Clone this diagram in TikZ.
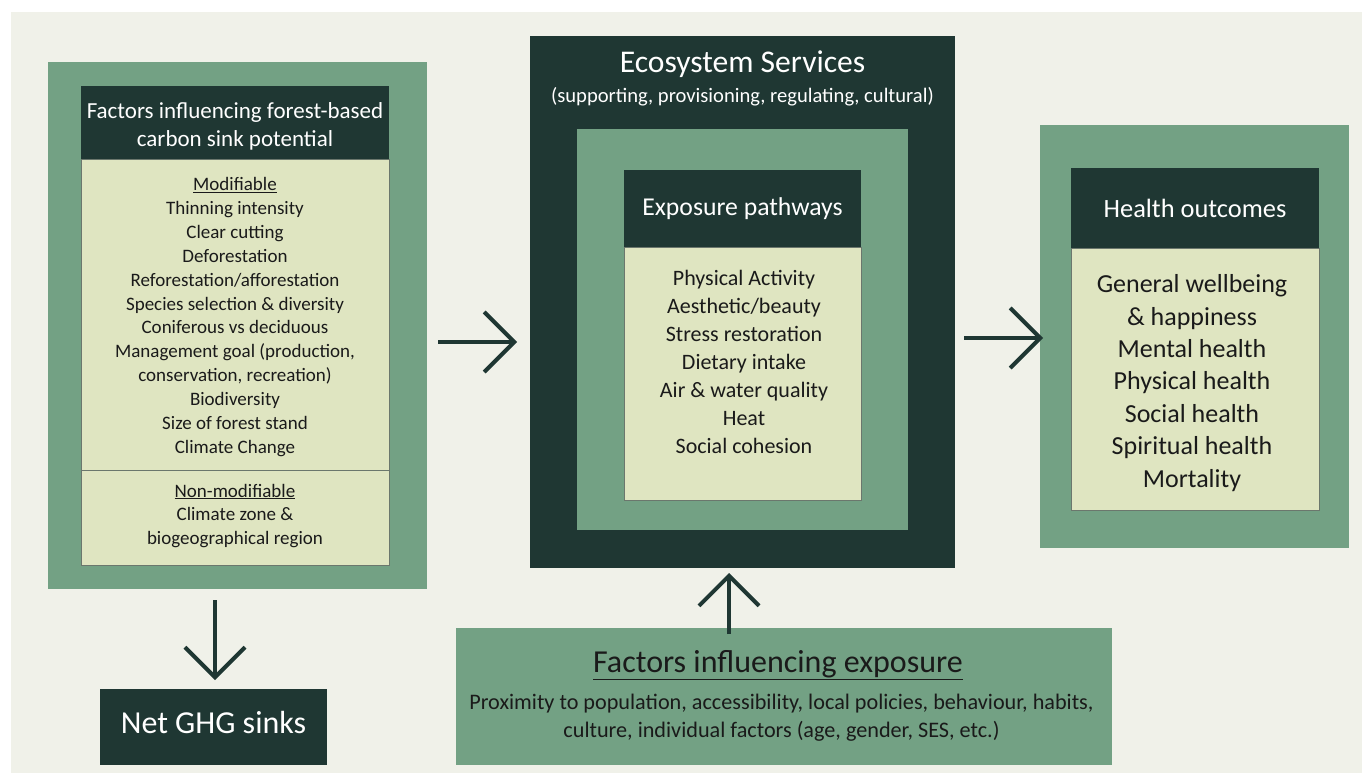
\documentclass[tikz,border=0pt]{standalone}
\usepackage{fontspec}
\setmainfont{Carlito}
\usepackage{tikz}
\usetikzlibrary{arrows.meta, positioning}
\definecolor{pagebg}{HTML}{F0F1E9}
\definecolor{darkgreen}{HTML}{1F3733}
\definecolor{midgreen}{HTML}{73A184}
\definecolor{palegreen}{HTML}{DFE5C1}
\definecolor{edgegray}{HTML}{6B776D}
\definecolor{inktext}{HTML}{1A1A1A}
\newcommand{\setfs}[2]{\fontsize{#1}{#2}\selectfont}
\tikzset{
    panel/.style={
        rectangle,
        fill=midgreen,
        outer sep=0pt,
        inner sep=0pt
    },
    darkpanel/.style={
        rectangle,
        fill=darkgreen,
        outer sep=0pt,
        inner sep=0pt
    },
    headbox/.style={
        rectangle,
        fill=darkgreen,
        text=white,
        align=center,
        outer sep=0pt,
        inner sep=0pt
    },
    bodybox/.style={
        rectangle,
        fill=palegreen,
        draw=edgegray,
        line width=0.8pt,
        outer sep=0pt,
        inner sep=0pt
    },
    listtext/.style={
        align=center,
        text=inktext,
        inner sep=0pt
    },
    flow/.style={
        draw=darkgreen,
        line width=4pt,
        -{Straight Barb[length=30pt, width=60pt]}
    }
}

\begin{document}
\begin{tikzpicture}[x=1pt, y=-1pt]

% Page background
\fill[white] (0,0) rectangle (1362,773);
\fill[pagebg] (11,12) rectangle (1362,773);

% Carbon sink panel
\node[panel, minimum width=379pt, minimum height=527pt] (carbonpanel) at (237.5,325.5) {};
\node[headbox, minimum width=308pt, minimum height=73pt] (carbonhead) at (235,122.5) {};
\node[listtext, text=white, font=\setfs{23}{28}] (carbontitle) at (235,126.5) {Factors influencing forest-based\\carbon sink potential};
\node[bodybox, minimum width=308pt, minimum height=311pt, below=0pt of carbonhead] (carbonmod) {};
\node[bodybox, minimum width=308pt, minimum height=95pt, below=0pt of carbonmod] (carbonfixed) {};
\node[listtext, font=\setfs{19}{23.9}] (modlist) at (235,317) {\underline{Modifiable}\\Thinning intensity\\Clear cutting\\Deforestation\\Reforestation/afforestation\\Species selection \& diversity\\Coniferous vs deciduous\\Management goal (production,\\conservation, recreation)\\Biodiversity\\Size of forest stand\\Climate Change};
\node[listtext, font=\setfs{19}{23.9}] (fixedlist) at (235,516) {\underline{Non-modifiable}\\Climate zone \&\\biogeographical region};

% Net sinks
\node[headbox, minimum width=227pt, minimum height=76pt, text height=22pt, text depth=9pt, font=\setfs{32}{38}] (ghgbox) at (213.5,727) {Net GHG sinks};

% Ecosystem services panel
\node[darkpanel, minimum width=425pt, minimum height=532pt] (ecopanel) at (742.5,302) {};
\node[listtext, text=white, font=\setfs{31.6}{36}] (ecotitle) at (742.5,64) {Ecosystem Services};
\node[listtext, text=white, font=\setfs{20.6}{24}] (ecosub) at (742.5,97) {(supporting, provisioning, regulating, cultural)};
\node[panel, minimum width=331pt, minimum height=401pt] (ecoinner) at (742.5,329.5) {};
\node[headbox, minimum width=237pt, minimum height=77pt, font=\setfs{25.7}{30}] (exphead) at (742.5,208.5) {Exposure pathways};
\node[bodybox, minimum width=237pt, minimum height=253pt, below=0pt of exphead] (expbody) {};
\node[listtext, font=\setfs{22}{28}] (explist) at (744,362) {Physical Activity\\Aesthetic/beauty\\Stress restoration\\Dietary intake\\Air \& water quality\\Heat\\Social cohesion};

% Health outcomes panel
\node[panel, minimum width=309pt, minimum height=423pt] (healthpanel) at (1194.5,336.5) {};
\node[headbox, minimum width=248pt, minimum height=80pt, font=\setfs{26.4}{31}] (healthhead) at (1195,208) {Health outcomes};
\node[bodybox, minimum width=248pt, minimum height=262pt, below=0pt of healthhead] (healthbody) {};
\node[listtext, font=\setfs{26}{32.4}] (healthlist) at (1192,383) {General wellbeing\\\& happiness\\Mental health\\Physical health\\Social health\\Spiritual health\\Mortality};

% Exposure factors
\node[panel, minimum width=656pt, minimum height=137pt] (expfactors) at (784,696.5) {};
\node[listtext, font=\setfs{32}{36}] (expfacttitle) at (778,665) {\underline{Factors influencing exposure}};
\node[listtext, font=\setfs{22.2}{28}] (expfactlist) at (781.5,718) {Proximity to population, accessibility, local policies, behaviour, habits,\\culture, individual factors (age, gender, SES, etc.)};

% Flow arrows
\draw[flow, shorten <=11pt, shorten >=13pt] ([yshift=-16.5pt]carbonpanel.east) -- ([yshift=-40pt]ecopanel.west);
\draw[flow, shorten <=9pt, shorten >=-3pt] ([yshift=-36pt]ecopanel.east) -- ([yshift=-1.5pt]healthpanel.west);
\draw[flow, shorten <=-6pt, shorten >=5pt] ([xshift=-55pt]expfactors.north) -- ([xshift=-13.5pt]ecopanel.south);
\draw[flow, shorten <=11pt, shorten >=9pt] ([xshift=-22.5pt]carbonpanel.south) -- ([xshift=1.5pt]ghgbox.north);

\end{tikzpicture}
\end{document}
